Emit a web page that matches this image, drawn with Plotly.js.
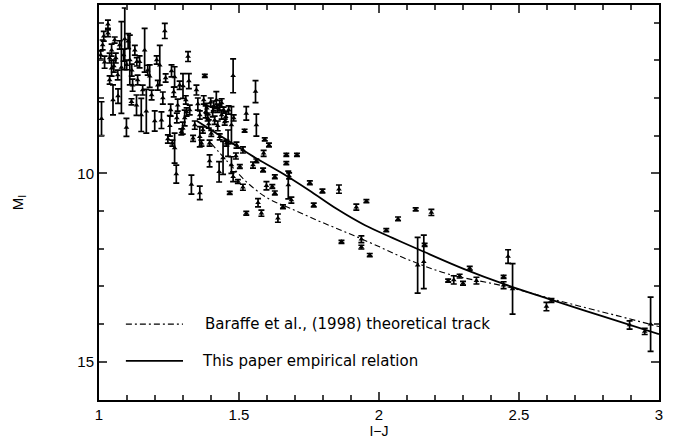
<!DOCTYPE html>
<html>
<head>
<meta charset="utf-8">
<script src="https://cdn.plot.ly/plotly-3.0.1.min.js"></script>
<style>html,body{margin:0;padding:0;background:#fff;}#chart{width:677px;height:439px;}</style>
</head>
<body>
<div id="chart"></div>
<script>
// Observed stars: I-J colour, absolute I magnitude, error (half-length)
const starIJ = [1.009,1.032,1.032,1.013,1.006,1.020,1.045,1.045,1.050,1.060,1.068,1.080,1.092,1.098,1.104,1.074,1.056,1.067,1.038,1.110,
1.116,1.117,1.128,1.134,1.138,1.145,1.151,1.163,1.169,1.156,1.174,1.181,1.188,1.199,1.206,1.217,1.223,1.210,1.235,1.228,
1.238,1.253,1.259,1.270,1.246,1.262,1.270,1.276,1.267,1.281,1.288,1.294,1.300,1.306,1.310,1.318,1.321,1.330,1.324,1.336,
1.342,1.348,1.353,1.360,1.360,1.366,1.360,1.371,1.378,1.374,1.385,1.388,1.395,1.395,1.401,1.399,1.406,1.419,1.413,1.424,
1.431,1.429,1.431,1.438,1.443,1.445,1.449,1.455,1.461,1.473,1.467,1.473,1.479,1.479,1.491,1.489,1.496,1.503,1.514,1.514,
1.520,1.526,1.526,1.559,1.562,1.550,1.562,1.568,1.580,1.586,1.588,1.592,1.598,1.607,1.619,1.628,1.628,1.639,1.657,1.669,
1.707,1.669,1.676,1.687,1.679,1.753,1.767,1.798,1.857,1.866,1.919,1.937,1.937,1.967,1.955,2.026,2.068,2.131,2.187,2.138,
2.160,2.163,2.247,2.267,2.288,2.300,2.324,2.348,2.445,2.445,2.461,2.477,2.598,2.616,2.895,2.949,2.970,
1.381,1.410,1.438,1.453,1.392,1.424,1.463,1.481,1.256,1.278,1.299,1.313,1.017,1.038,1.053,1.088,1.099,1.120,1.135];
const starMI = [8.55,6.04,6.28,6.59,6.86,7.05,6.73,7.21,8.05,6.94,7.95,7.19,6.43,8.78,6.49,6.59,6.46,7.39,7.52,6.99,
8.10,7.26,6.73,8.19,7.52,7.04,8.45,6.73,8.35,7.79,7.26,7.42,7.92,8.61,6.99,7.13,8.59,7.66,6.22,8.00,
7.47,8.74,7.28,7.44,9.09,9.20,9.33,10.02,7.84,8.19,7.66,8.90,7.68,8.53,8.05,6.90,7.55,10.30,8.32,9.07,
8.72,7.79,8.16,10.52,9.03,9.20,8.45,8.85,7.41,8.05,8.27,8.53,9.67,9.20,8.94,8.11,8.37,8.05,8.59,8.27,
9.03,9.96,8.19,8.45,9.59,8.32,8.64,9.20,9.20,8.72,10.52,9.78,10.09,7.41,9.25,9.54,10.22,9.82,9.38,10.37,
8.87,8.41,11.06,7.83,8.72,9.78,9.67,10.78,11.06,9.91,9.47,9.10,10.33,9.25,10.35,10.09,10.52,11.19,10.89,9.51,
9.51,9.73,10.31,10.71,10.07,10.25,10.84,10.47,10.42,11.82,10.90,11.75,11.96,12.17,10.74,11.51,11.21,10.96,11.04,12.44,
12.35,11.90,12.85,12.83,12.73,12.92,12.52,12.85,12.75,12.97,12.21,13.07,13.54,13.38,14.03,14.20,14.01,
8.37,8.21,8.13,8.50,8.69,8.74,8.32,8.53,8.32,8.53,8.80,8.37,6.36,6.94,7.15,6.86,7.12,7.66,7.04];
const starErr = [0.45,0.11,0.09,0.13,0.11,0.16,0.16,0.21,0.40,0.13,0.19,1.22,0.82,0.24,0.20,0.11,0.08,0.13,0.11,0.66,
0.08,0.16,0.13,0.27,0.13,0.16,0.44,0.58,0.58,0.13,0.13,0.30,0.13,0.27,0.11,0.53,0.22,0.13,0.20,0.16,
0.11,0.27,0.16,0.27,0.11,0.08,0.40,0.24,0.13,0.16,0.11,0.08,0.33,0.21,0.11,0.13,0.20,0.25,0.13,0.08,
0.11,0.13,0.16,0.18,0.27,0.08,0.11,0.08,0.04,0.11,0.13,0.08,0.16,0.08,0.08,0.11,0.13,0.22,0.11,0.11,
0.08,0.27,0.13,0.11,0.44,0.08,0.08,0.08,0.35,0.49,0.04,0.22,0.13,0.45,0.08,0.08,0.05,0.05,0.08,0.08,
0.04,0.18,0.05,0.29,0.29,0.08,0.05,0.11,0.08,0.05,0.08,0.04,0.11,0.05,0.05,0.05,0.05,0.11,0.05,0.04,
0.04,0.04,0.37,0.08,0.08,0.05,0.05,0.05,0.11,0.04,0.08,0.09,0.05,0.04,0.04,0.04,0.05,0.04,0.08,0.74,
0.71,0.04,0.04,0.11,0.05,0.05,0.05,0.09,0.04,0.09,0.18,0.67,0.11,0.05,0.11,0.08,0.72,
0.16,0.13,0.11,0.13,0.11,0.13,0.11,0.08,0.16,0.13,0.16,0.11,0.13,0.13,0.16,0.16,0.13,0.16,0.11];

// Baraffe et al. (1998) theoretical track
const baraffeIJ = [1.40,1.46,1.53,1.60,1.68,1.78,1.88,1.98,2.10,2.25,2.45,2.65,2.85,3.00];
const baraffeMI = [9.20,9.70,10.25,10.65,10.92,11.25,11.56,11.88,12.28,12.68,13.00,13.40,13.78,14.07];

// This paper empirical relation
const empIJ = [1.35,1.45,1.55,1.65,1.75,1.85,1.95,2.05,2.15,2.30,2.45,2.60,2.80,3.00];
const empMI = [8.61,9.08,9.55,9.98,10.45,10.95,11.38,11.72,12.05,12.53,12.95,13.32,13.80,14.27];

const legendNames = ["Baraffe et al., (1998) theoretical track", "This paper empirical relation"];

const font = "Liberation Sans, Arial, sans-serif";
const keyFont = "DejaVu Sans, Liberation Sans, sans-serif";
const dashDot = "6px,3px,2px,3px";

const traces = [
  {
    x: starIJ, y: starMI, type: "scatter", mode: "markers", showlegend: false,
    marker: {symbol: "triangle-up", size: 5, color: "#000"},
    error_y: {type: "data", array: starErr, visible: true, color: "#000", thickness: 1.7, width: 3}
  },
  {
    x: baraffeIJ, y: baraffeMI, type: "scatter", mode: "lines", name: legendNames[0], showlegend: false,
    line: {color: "#000", width: 1.1, dash: dashDot, shape: "spline"}
  },
  {
    x: empIJ, y: empMI, type: "scatter", mode: "lines", name: legendNames[1], showlegend: false,
    line: {color: "#000", width: 1.8, shape: "spline"}
  }
];

// in-plot key (paper coordinates)
const keyRows = [0.192, 0.099];
const keyTextX = [0.186, 0.180];
const shapes = [
  {type: "line", xref: "paper", yref: "paper", x0: 0.048, x1: 0.150, y0: keyRows[0], y1: keyRows[0],
   line: {color: "#000", width: 1.1, dash: dashDot}},
  {type: "line", xref: "paper", yref: "paper", x0: 0.048, x1: 0.150, y0: keyRows[1], y1: keyRows[1],
   line: {color: "#000", width: 1.8}}
];
const annotations = legendNames.map((t, i) => ({
  text: t, xref: "paper", yref: "paper", x: keyTextX[i], y: keyRows[i], xanchor: "left", yanchor: "middle",
  showarrow: false, font: {family: keyFont, size: 15, color: "#000"}
}));

const layout = {
  width: 677, height: 439,
  margin: {l: 99, r: 18, t: 5, b: 39},
  paper_bgcolor: "#fff", plot_bgcolor: "#fff",
  font: {family: font, color: "#000", size: 15},
  showlegend: false,
  shapes: shapes,
  annotations: annotations,
  xaxis: {
    range: [1, 3], tick0: 1, dtick: 0.5, ticks: "inside", ticklen: 8, tickwidth: 2,
    showline: true, linewidth: 2, linecolor: "#000", mirror: "allticks", zeroline: false, showgrid: false,
    tickfont: {family: font, size: 15},
    minor: {dtick: 0.1, ticks: "inside", ticklen: 5, tickwidth: 2, showgrid: false},
    title: {text: "I\u2212J", font: {family: font, size: 14}, standoff: 4}
  },
  yaxis: {
    range: [16.02, 5.53], tick0: 0, dtick: 5, ticks: "inside", ticklen: 8, tickwidth: 2,
    showline: true, linewidth: 2, linecolor: "#000", mirror: "allticks", zeroline: false, showgrid: false,
    tickfont: {family: font, size: 15},
    minor: {dtick: 1, ticks: "inside", ticklen: 5, tickwidth: 2, showgrid: false},
    title: {text: "M<sub>I</sub>", font: {family: font, size: 15}, standoff: 50}
  }
};

Plotly.newPlot("chart", traces, layout, {staticPlot: true, displayModeBar: false});
</script>
</body>
</html>
